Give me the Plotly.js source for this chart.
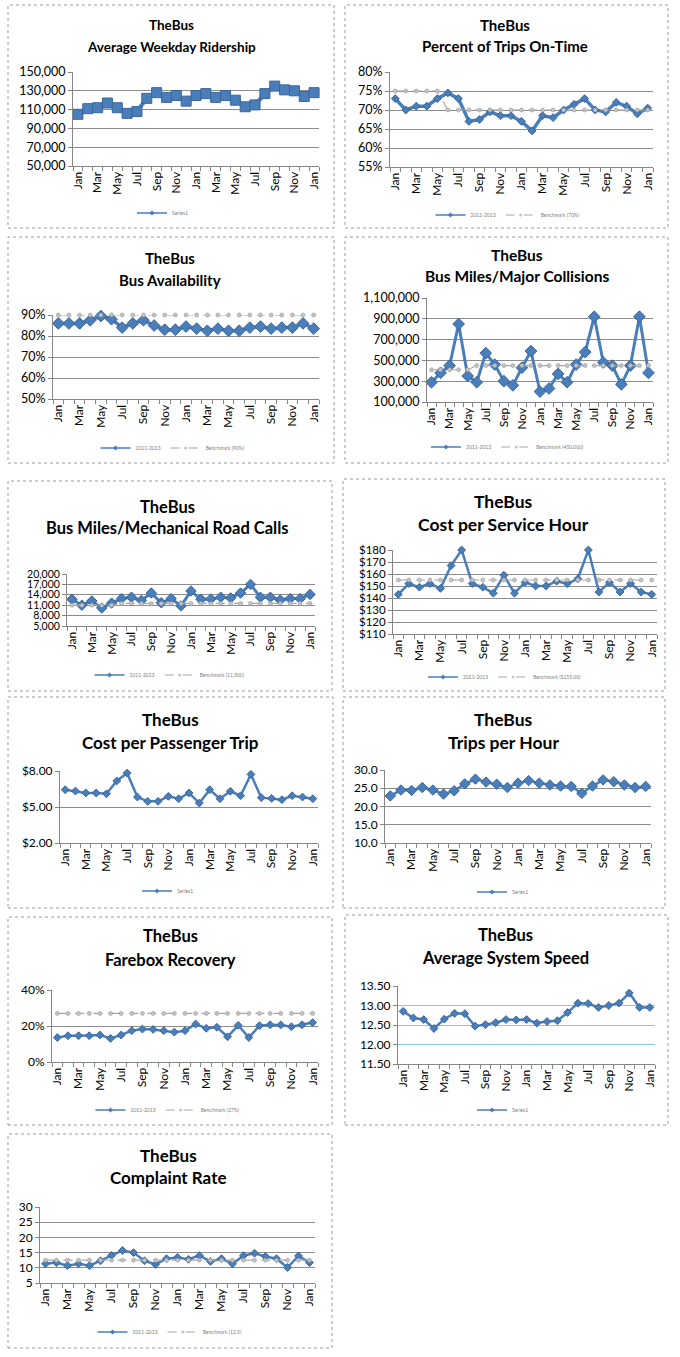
<!DOCTYPE html>
<html><head><meta charset="utf-8">
<script src="https://cdn.plot.ly/plotly-3.0.1.min.js"></script>
<style>html,body{margin:0;padding:0;background:#fff;}#chart{width:680px;height:1357px;}</style>
</head><body><div id="chart"></div>
<script>
const W = 680, H = 1357;
const FONT = 'Lato, "Open Sans", sans-serif';

// ---------- data ----------
const months = ['Jan','Feb','Mar','Apr','May','Jun','Jul','Aug','Sep','Oct','Nov','Dec',
                'Jan','Feb','Mar','Apr','May','Jun','Jul','Aug','Sep','Oct','Nov','Dec','Jan'];

const ridership = [105000,111000,112000,117000,112000,106000,108000,122000,128000,123000,125000,119000,
                   125000,127000,123000,125000,120000,113000,115000,127000,135000,131000,130000,124000,128000];

const onTime = [0.73,0.70,0.71,0.71,0.73,0.745,0.73,0.67,0.675,0.695,0.685,0.685,
                0.67,0.645,0.685,0.68,0.70,0.715,0.73,0.70,0.695,0.72,0.71,0.69,0.705];
const onTimeBench = [0.75,0.75,0.75,0.75,0.75,0.70,0.70,0.70,0.70,0.70,0.70,0.70,
                     0.70,0.70,0.70,0.70,0.70,0.70,0.70,0.70,0.70,0.70,0.70,0.70,0.70];

const availability = [0.86,0.86,0.86,0.875,0.895,0.88,0.84,0.86,0.875,0.85,0.83,0.83,
                      0.845,0.835,0.825,0.835,0.825,0.825,0.84,0.845,0.835,0.84,0.84,0.86,0.835];
const availBench = [0.9,0.9,0.9,0.9,0.9,0.9,0.9,0.9,0.9,0.9,0.9,0.9,
                    0.9,0.9,0.9,0.9,0.9,0.9,0.9,0.9,0.9,0.9,0.9,0.9,0.9];

const collisions = [290000,380000,450000,850000,350000,290000,570000,460000,300000,260000,430000,590000,
                    200000,230000,370000,290000,460000,580000,920000,480000,450000,270000,450000,920000,380000];
const collBench = [410000,410000,410000,410000,410000,450000,450000,450000,450000,450000,450000,450000,
                   450000,450000,450000,450000,450000,450000,450000,450000,450000,450000,450000,450000,450000];

const roadCalls = [12700,11000,12200,10200,11600,12900,13300,12400,14500,11700,12900,10800,
                   15100,12700,12800,13300,13100,14500,17000,13300,13300,12500,12900,12900,14100];
const roadBench = [11000,11000,11000,11000,11000,11500,11500,11500,11500,11500,11500,11500,
                   11500,11500,11500,11500,11500,11500,11500,11500,11500,11500,11500,11500,11500];

const costHour = [143,152,149,152,148,167,180,152,149,144,159,144,
                  153,150,150,154,152,156,180,145,153,145,152,145,143];
const costHourBench = [155,155,155,155,155,155,155,155,155,155,155,155,
                       155,155,155,155,155,155,155,155,155,155,155,155,155];

const costTrip = [6.44,6.33,6.17,6.17,6.10,7.17,7.83,5.83,5.47,5.47,5.89,5.69,
                  6.17,5.33,6.44,5.69,6.31,5.94,7.72,5.78,5.72,5.61,5.94,5.83,5.69];

const tripsHour = [22.9,24.5,24.4,25.2,24.5,23.4,24.3,26.2,27.5,26.7,26.1,25.2,
                   26.4,27.1,26.4,25.9,25.6,25.5,23.6,25.6,27.3,26.8,25.9,25.2,25.5];

const farebox = [0.136,0.146,0.146,0.146,0.150,0.131,0.150,0.174,0.183,0.181,0.174,0.166,
                 0.174,0.211,0.187,0.193,0.140,0.204,0.136,0.202,0.207,0.206,0.196,0.207,0.219];
const fareBench = [0.27,0.27,0.27,0.27,0.27,0.27,0.27,0.27,0.27,0.27,0.27,0.27,
                   0.27,0.27,0.27,0.27,0.27,0.27,0.27,0.27,0.27,0.27,0.27,0.27,0.27];

const speed = [12.85,12.68,12.64,12.41,12.65,12.80,12.79,12.47,12.51,12.56,12.64,12.63,
               12.64,12.55,12.59,12.61,12.82,13.06,13.05,12.95,13.00,13.06,13.32,12.95,12.95];

const complaints = [11.3,11.7,10.7,11.3,10.7,12.3,14.1,15.7,15.0,12.3,11.1,13.0,
                    13.4,12.8,14.0,12.1,13.0,11.3,14.0,14.8,13.7,13.0,10.1,13.9,11.7];
const complaintBench = [12.5,12.5,12.5,12.5,12.5,12.5,12.5,12.5,12.5,12.5,12.5,12.5,
                        12.5,12.5,12.5,12.5,12.5,12.5,12.5,12.5,12.5,12.5,12.5,12.5,12.5];

const titleTop = 'TheBus';
const subtitles = ['Average Weekday Ridership','Percent of Trips On-Time','Bus Availability',
  'Bus Miles/Major Collisions','Bus Miles/Mechanical Road Calls','Cost per Service Hour',
  'Cost per Passenger Trip','Trips per Hour','Farebox Recovery','Average System Speed','Complaint Rate'];

// ---------- layout config (pixels) ----------
const panels = [
 {s:ridership, name:'Series1', b:null, bn:null, range:[50000,150000], dtick:20000, fmt:',', pre:'',
  box:[8,5,334,228], plot:[73,72,319,166], t:[25,47], tx:171, ts:13.5, yf:12.5, leg:[163,213], sym:'square', ms:10, lw:4},
 {s:onTime, name:'2011-2013', b:onTimeBench, bn:'Benchmark (70%)', range:[0.55,0.80], dtick:0.05, fmt:'.0%', pre:'',
  box:[345,5,668,228], plot:[390,72,653,167], t:[25,46], tx:505, ts:15, yf:12.5, leg:[508,215], sym:'diamond', ms:6, lw:3.5},
 {s:availability, name:'2011-2013', b:availBench, bn:'Benchmark (90%)', range:[0.5,0.9], dtick:0.1, fmt:'.0%', pre:'',
  box:[8,237,334,463], plot:[53,315,319,399], t:[258,280], tx:170, ts:15, yf:12.5, leg:[173,448], sym:'diamond', ms:9, lw:3.5},
 {s:collisions, name:'2011-2013', b:collBench, bn:'Benchmark (450,000)', range:[100000,1100000], dtick:200000, fmt:',', pre:'',
  box:[345,237,668,463], plot:[427,298,653,402], t:[255,276], tx:517, ts:15.5, yf:12.5, leg:[508,447], sym:'diamond', ms:9, lw:3},
 {s:roadCalls, name:'2011-2013', b:roadBench, bn:'Benchmark (11,500)', range:[5000,20000], dtick:3000, fmt:',', pre:'',
  box:[8,481,332,691], plot:[67,574,315,626], t:[507,528], tx:167, ts:16.5, yf:10.5, leg:[170,675], sym:'diamond', ms:8, lw:3},
 {s:costHour, name:'2011-2013', b:costHourBench, bn:'Benchmark ($155.00)', range:[110,180], dtick:10, fmt:'d', pre:'$',
  box:[343,479,665,691], plot:[393,550,657,634], t:[501,524], tx:503, ts:17.5, yf:11.5, leg:[505,677], sym:'diamond', ms:6, lw:2.5},
 {s:costTrip, name:'Series1', b:null, bn:null, range:[2,8], dtick:3, fmt:'.2f', pre:'$',
  box:[8,697,333,908], plot:[60,771,318,843], t:[719,742], tx:170, ts:17, yf:12, leg:[168,891], sym:'diamond', ms:6, lw:2.5},
 {s:tripsHour, name:'Series1', b:null, bn:null, range:[10,30], dtick:5, fmt:'.1f', pre:'',
  box:[343,697,665,908], plot:[385,770,651,843], t:[719,743], tx:503, ts:17.5, yf:12, leg:[503,892], sym:'diamond', ms:8, lw:2.5},
 {s:farebox, name:'2011-2013', b:fareBench, bn:'Benchmark (27%)', range:[0,0.4], dtick:0.2, fmt:'.0%', pre:'',
  box:[8,917,332,1125], plot:[52,990,318,1062], t:[936,960], tx:170, ts:16.5, yf:12, leg:[168,1110], sym:'diamond', ms:6, lw:2.5},
 {s:speed, name:'Series1', b:null, bn:null, range:[11.5,13.5], dtick:0.5, fmt:'.2f', pre:'',
  box:[345,915,668,1125], plot:[398,986,655,1064], t:[935,958], tx:505, ts:16.5, yf:12, leg:[503,1110], sym:'diamond', ms:6, lw:2.5, grid:'#8EC3EC'},
 {s:complaints, name:'2011-2013', b:complaintBench, bn:'Benchmark (12.5)', range:[5,30], dtick:5, fmt:'d', pre:'',
  box:[8,1134,332,1348], plot:[40,1207,315,1283], t:[1155,1177], tx:168, ts:17, yf:12, leg:[170,1332], sym:'diamond', ms:6, lw:2.5}
];

const BLUE = '#4A7EBB', BLUE_D = '#3A6699', AX = '#868686';
const GRAY_L = '#A6A6A6', GRAY_M = '#C4C4C4';
const xIdx = months.map((m, i) => i);
const tickIdx = xIdx.filter(i => i % 2 === 0);
const tickTxt = tickIdx.map(i => months[i]);
const bounds = [-0.5].concat(xIdx.map(i => i + 0.5));

const px = v => v / W, py = v => 1 - v / H;
const traces = [], layout = {
  width: W, height: H, margin: {l:0, r:0, t:0, b:0}, autosize: false,
  paper_bgcolor: '#fff', plot_bgcolor: 'rgba(0,0,0,0)',
  font: {family: FONT, color: '#000'}, showlegend: true,
  shapes: [], annotations: []
};

panels.forEach((p, k) => {
  const n = k === 0 ? '' : String(k + 1);
  const xa = 'x' + n, ya = 'y' + n, lg = 'legend' + n;
  traces.push({
    type: 'scatter', mode: 'lines+markers', x: xIdx, y: p.s, name: p.name, showlegend: false,
    xaxis: xa, yaxis: ya, cliponaxis: false,
    line: {color: BLUE, width: p.lw},
    marker: {symbol: p.sym, size: p.ms, color: BLUE, line: {color: BLUE_D, width: 1}}
  });
  if (p.b) {
    traces.push({
      type: 'scatter', mode: 'lines+markers', x: xIdx, y: p.b, name: p.bn, showlegend: false,
      xaxis: xa, yaxis: ya, cliponaxis: false,
      line: {color: GRAY_L, width: 1.2, dash: 'dash'},
      marker: {symbol: 'circle', size: 4, color: GRAY_M, line: {color: '#999', width: 0.6}}
    });
  }
  // legend keys (small symbols, no data drawn)
  traces.push({
    type: 'scatter', mode: 'lines+markers', x: [null], y: [null], name: p.name,
    xaxis: xa, yaxis: ya, legend: lg, hoverinfo: 'skip',
    line: {color: BLUE, width: 1.5}, marker: {symbol: 'diamond', size: 4, color: BLUE}
  });
  if (p.b) {
    traces.push({
      type: 'scatter', mode: 'lines+markers', x: [null], y: [null], name: p.bn,
      xaxis: xa, yaxis: ya, legend: lg, hoverinfo: 'skip',
      line: {color: GRAY_L, width: 1, dash: 'dash'}, marker: {symbol: 'circle', size: 3, color: GRAY_M}
    });
  }
  layout['xaxis' + n] = {
    domain: [px(p.plot[0]), px(p.plot[2])], anchor: ya, range: [-0.5, 24.5],
    tickmode: 'array', tickvals: tickIdx, ticktext: tickTxt, tickangle: -90,
    ticks: '', showgrid: false, zeroline: false, showline: true, linecolor: AX, linewidth: 1,
    tickfont: {family: FONT, size: 12, color: '#000'},
    minor: {tickmode: 'array', tickvals: bounds, ticks: 'outside', ticklen: 4, tickcolor: AX, showgrid: false},
    fixedrange: true
  };
  layout['yaxis' + n] = {
    domain: [py(p.plot[3]), py(p.plot[1])], anchor: xa, range: p.range,
    tickmode: 'linear', tick0: p.range[0], dtick: p.dtick, tickformat: p.fmt, tickprefix: p.pre,
    ticks: 'outside', ticklen: 4, tickcolor: AX, showline: true, linecolor: AX, linewidth: 1,
    showgrid: true, gridcolor: p.grid || '#8C8C8C', gridwidth: 1, zeroline: false,
    tickfont: {family: FONT, size: p.yf, color: '#000'}, fixedrange: true
  };
  layout[lg] = {
    x: px(p.leg[0]), y: py(p.leg[1]), xanchor: 'center', yanchor: 'middle',
    orientation: 'h', bgcolor: 'rgba(0,0,0,0)', itemwidth: 30,
    font: {family: FONT, size: 5, color: '#808080'}
  };
  layout.shapes.push({
    type: 'rect', xref: 'paper', yref: 'paper',
    x0: px(p.box[0]), x1: px(p.box[2]), y0: py(p.box[3]), y1: py(p.box[1]),
    line: {color: '#9A9A9A', width: 1, dash: 'dot'}, fillcolor: 'rgba(0,0,0,0)', layer: 'below'
  });
  layout.annotations.push({
    text: '<b>' + titleTop + '</b>', xref: 'paper', yref: 'paper', x: px(p.tx), y: py(p.t[0]),
    xanchor: 'center', yanchor: 'middle', showarrow: false, font: {family: FONT, size: p.ts, color: '#000'}
  });
  layout.annotations.push({
    text: '<b>' + subtitles[k] + '</b>', xref: 'paper', yref: 'paper', x: px(p.tx), y: py(p.t[1]),
    xanchor: 'center', yanchor: 'middle', showarrow: false, font: {family: FONT, size: p.ts, color: '#000'}
  });
});

Plotly.newPlot('chart', traces, layout, {displayModeBar: false, staticPlot: true});
</script></body></html>
